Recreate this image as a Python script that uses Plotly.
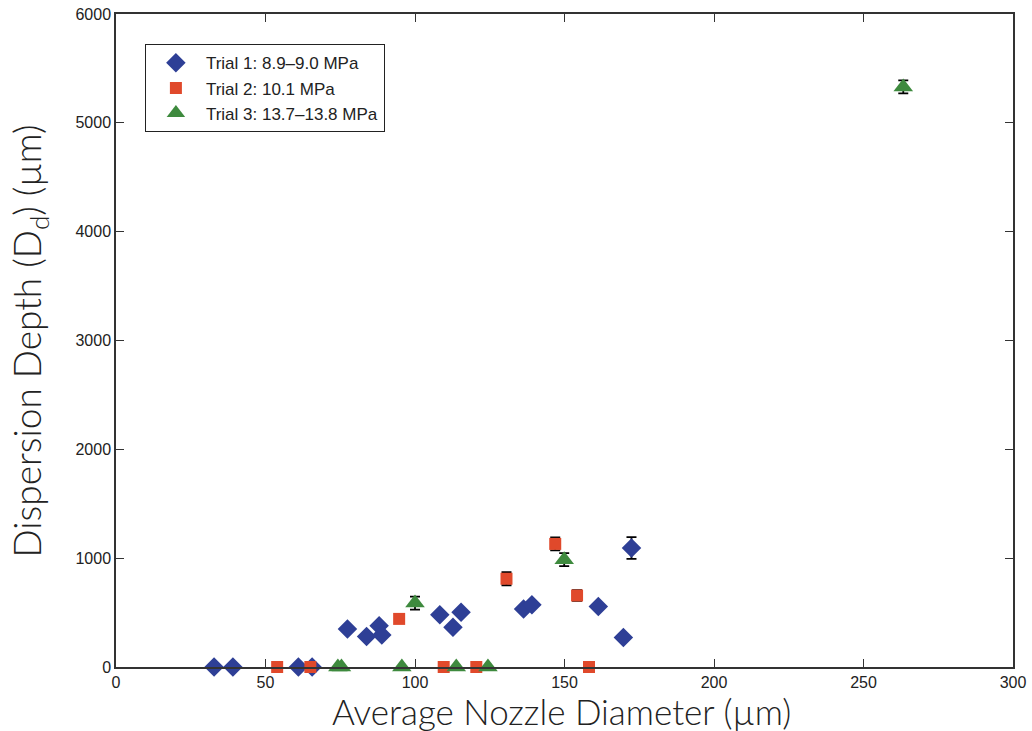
import plotly.graph_objects as go

# Trial 1: 8.9-9.0 MPa
t1_x = [32.8, 39.1, 61.0, 65.6, 77.4, 83.8, 88.0, 88.9, 108.3, 112.7, 115.4, 136.3, 139.1, 161.3, 169.7, 172.4]
t1_y = [0, 0, 0, 0, 350, 280, 378, 295, 479, 366, 504, 532, 571, 556, 270, 1094]
t1_err = [0, 0, 0, 0, 0, 0, 0, 0, 0, 0, 0, 0, 0, 0, 0, 100]

# Trial 2: 10.1 MPa
t2_x = [53.9, 65.0, 94.7, 109.6, 120.5, 130.6, 146.9, 154.2, 158.2]
t2_y = [0, 0, 442, 0, 0, 811, 1131, 657, 0]
t2_err = [0, 0, 0, 0, 0, 60, 60, 50, 0]

# Trial 3: 13.7-13.8 MPa
t3_x = [74.2, 75.4, 95.6, 100.0, 113.8, 124.4, 149.9, 263.3]
t3_y = [0, 0, 0, 587, 0, 0, 986, 5330]
t3_err = [0, 0, 0, 60, 0, 0, 60, 60]

x_ticks = [0, 50, 100, 150, 200, 250, 300]
y_ticks = [0, 1000, 2000, 3000, 4000, 5000, 6000]

x_title = "Average Nozzle Diameter (µm)"
y_title = "Dispersion Depth (D<sub>d</sub>) (µm)"

TICK_FONT = dict(family="Liberation Sans, Arial, sans-serif", size=16, color="#222")
TITLE_FONT = dict(family="Lato, DejaVu Sans, sans-serif", size=37, color="#222", weight=300)
XTITLE_FONT = dict(TITLE_FONT, size=35)

fig = go.Figure()

def add_trial(xs, ys, errs, name, symbol, color, size):
    fig.add_trace(go.Scatter(
        x=xs, y=ys, mode="markers", name=name,
        marker=dict(symbol=symbol, color=color, size=size, line=dict(width=0)),
        error_y=dict(type="data", array=errs, visible=True, color="black",
                     thickness=1.8, width=5),
        cliponaxis=False,
    ))

add_trial(t1_x, t1_y, t1_err, "Trial 1: 8.9–9.0 MPa", "diamond", "#2e3f96", 15)
add_trial(t2_x, t2_y, t2_err, "Trial 2: 10.1 MPa", "square", "#e0492b", 12)
add_trial(t3_x, t3_y, t3_err, "Trial 3: 13.7–13.8 MPa", "triangle-up", "#3e8a3e", 17)

axis_common = dict(
    showline=True, linecolor="#333", linewidth=1.5, mirror="ticks",
    ticks="inside", ticklen=8, tickwidth=1.3, tickcolor="#333",
    showgrid=False, zeroline=False, tickfont=TICK_FONT, automargin=False,
)

fig.update_xaxes(range=[0, 300], tickvals=x_ticks,
                 ticktext=[str(v) for v in x_ticks], **axis_common)
fig.update_yaxes(range=[0, 6000], tickvals=y_ticks,
                 ticktext=[str(v) for v in y_ticks], **axis_common)

# Axis titles placed as paper-anchored annotations so margins stay fixed
fig.add_annotation(text=x_title, xref="paper", yref="paper", x=0.497, y=-0.0672,
                   xanchor="center", yanchor="middle", showarrow=False,
                   borderpad=0, font=XTITLE_FONT)
fig.add_annotation(text=y_title, xref="paper", yref="paper", x=-0.096, y=0.5,
                   xanchor="center", yanchor="middle", showarrow=False,
                   textangle=-90, font=TITLE_FONT)

fig.update_layout(
    width=1032, height=731,
    margin=dict(l=116, r=19, t=14, b=64),
    plot_bgcolor="white", paper_bgcolor="white",
    legend=dict(
        x=0.032, y=0.954, xanchor="left", yanchor="top",
        bgcolor="white", bordercolor="#222", borderwidth=1.2,
        font=dict(family="Liberation Sans, Arial, sans-serif", size=17, color="#222"),
        itemwidth=50, tracegroupgap=0,
    ),
)

fig.write_html("out.html")
